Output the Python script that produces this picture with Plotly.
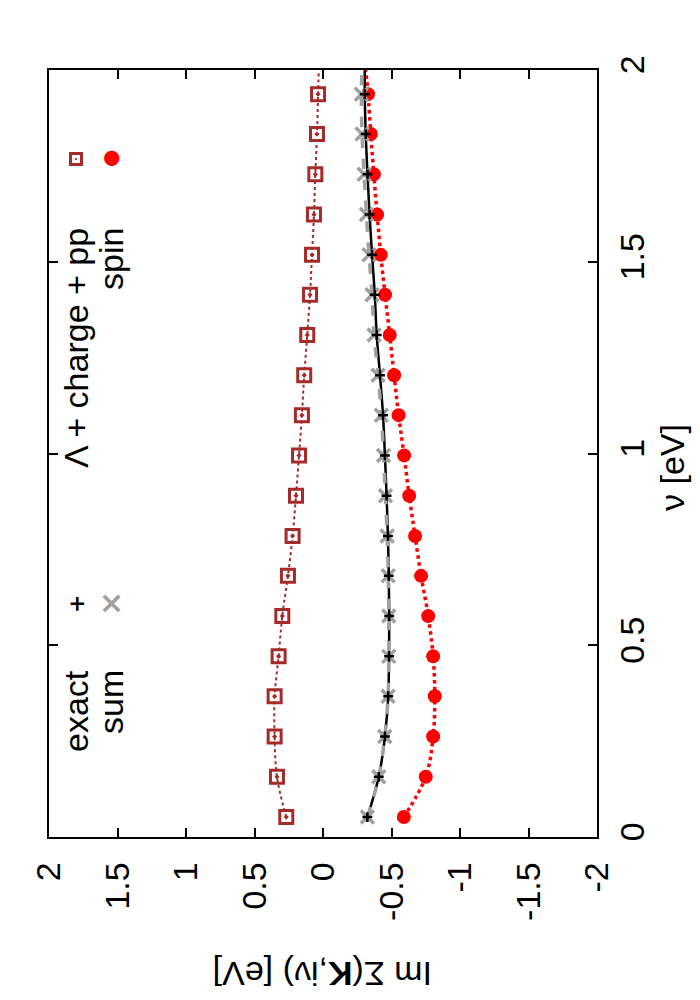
import plotly.graph_objects as go

# Matsubara frequencies (eV)
nu = [0.052, 0.157, 0.262, 0.367, 0.471, 0.576, 0.681, 0.785, 0.890, 0.995,
      1.100, 1.204, 1.309, 1.414, 1.518, 1.623, 1.728, 1.833, 1.937]

# Im Sigma values (eV)
lam_charge_pp = [0.268, 0.336, 0.353, 0.353, 0.324, 0.297, 0.256, 0.222, 0.197, 0.175,
                 0.154, 0.137, 0.115, 0.095, 0.080, 0.066, 0.056, 0.044, 0.036]
spin = [-0.590, -0.750, -0.804, -0.816, -0.804, -0.768, -0.716, -0.672, -0.629, -0.592,
        -0.552, -0.519, -0.487, -0.453, -0.422, -0.395, -0.371, -0.349, -0.329]
sum_vals = [-0.324, -0.407, -0.451, -0.475, -0.480, -0.480, -0.476, -0.468, -0.456, -0.442,
            -0.426, -0.402, -0.373, -0.358, -0.336, -0.317, -0.300, -0.285, -0.280]
exact = [-0.324, -0.407, -0.452, -0.476, -0.482, -0.483, -0.480, -0.474, -0.464, -0.452,
         -0.438, -0.416, -0.392, -0.378, -0.358, -0.340, -0.325, -0.312, -0.305]

# curve end values at nu = 2 (lines continue to the frame)
nu_end = 2.0
lam_end = 0.031
spin_end = -0.312
sum_end = -0.285
exact_end = -0.305

xticks = [2, 1.5, 1, 0.5, 0, -0.5, -1, -1.5, -2]
xticktext = ["2", "1.5", "1", "0.5", "0", "-0.5", "-1", "-1.5", "-2"]
yticks = [0, 0.5, 1, 1.5, 2]
yticktext = ["0", "0.5", "1", "1.5", "2"]

FONT = "Liberation Sans, Arial, sans-serif"
FS = 34
BROWN = "#a52a2a"
GREY = "#a0a0a0"
RED = "#ff0000"

fig = go.Figure()

# lambda + charge + pp
fig.add_trace(go.Scatter(x=lam_charge_pp + [lam_end], y=nu + [nu_end], mode="lines",
                         line=dict(color=BROWN, width=2, dash="dot", shape="spline"),
                         showlegend=False, hoverinfo="skip"))
fig.add_trace(go.Scatter(x=lam_charge_pp, y=nu, mode="markers",
                         marker=dict(symbol="square-open-dot", size=13, color=BROWN,
                                     line=dict(color=BROWN, width=3)),
                         showlegend=False))
# spin
fig.add_trace(go.Scatter(x=spin + [spin_end], y=nu + [nu_end], mode="lines",
                         line=dict(color=RED, width=3.5, dash="dot", shape="spline"),
                         showlegend=False, hoverinfo="skip"))
fig.add_trace(go.Scatter(x=spin, y=nu, mode="markers",
                         marker=dict(symbol="circle", size=14, color=RED),
                         showlegend=False))
# exact
fig.add_trace(go.Scatter(x=exact + [exact_end], y=nu + [nu_end], mode="lines",
                         line=dict(color="black", width=2.5, shape="spline"),
                         showlegend=False, hoverinfo="skip"))
# sum
fig.add_trace(go.Scatter(x=sum_vals + [sum_end], y=nu + [nu_end], mode="lines",
                         line=dict(color=GREY, width=3.5, dash="dash", shape="spline"),
                         showlegend=False, hoverinfo="skip"))
fig.add_trace(go.Scatter(x=sum_vals, y=nu, mode="markers",
                         marker=dict(symbol="x-thin", size=13, color=GREY,
                                     line=dict(color=GREY, width=3.5)),
                         showlegend=False))
fig.add_trace(go.Scatter(x=exact, y=nu, mode="markers",
                         marker=dict(symbol="cross-thin", size=7, color="black",
                                     line=dict(color="black", width=2.5)),
                         showlegend=False))

# pixel -> paper helpers for annotation placement
L, R, T, B = 41, 589, 62, 829
def px2x(px):
    return (px - L) / (R - L)
def py2y(py):
    return (B - py) / (B - T)

ann = []
def txt(px, py, s, color="black", size=FS, angle=-90, xa="center", ya="top", fam=FONT):
    ann.append(dict(x=px2x(px), y=py2y(py), xref="paper", yref="paper", text=s,
                    showarrow=False, textangle=angle, xanchor=xa, yanchor=ya,
                    font=dict(family=fam, size=size, color=color)))

# key text
txt(68, 660, "exact")
txt(103, 660, "sum")
txt(68, 218, "Λ + charge + pp")
txt(103, 218, "spin")
# key samples
txt(68, 596, "<b>+</b>", size=22, ya="middle", fam="DejaVu Sans")
txt(102, 596, "<b>×</b>", color=GREY, size=30, ya="middle", fam="DejaVu Sans")
txt(102, 151, "●", color=RED, size=20, ya="middle", fam="DejaVu Sans")
ann.append(dict(x=px2x(68), y=py2y(151), xref="paper", yref="paper", text="<b>·</b>",
                showarrow=False, font=dict(size=10, color=BROWN, family="DejaVu Sans"),
                bordercolor=BROWN, borderwidth=3, borderpad=0, width=8, height=8,
                xanchor="center", yanchor="middle"))

# axis titles
txt(315, 966, "Im Σ(<b>K</b>,iν) [eV]", angle=180, ya="middle")
txt(664, 460, "ν [eV]", ya="middle")

fig.update_layout(
    width=700, height=1000,
    margin=dict(l=L, r=700 - R, t=T, b=1000 - B, autoexpand=False),
    paper_bgcolor="white", plot_bgcolor="white",
    showlegend=False,
    annotations=ann,
    xaxis=dict(range=[2, -2], tickvals=xticks, ticktext=xticktext, tickangle=-90,
               ticks="inside", ticklen=9, tickwidth=1.5, tickcolor="black",
               showline=True, linecolor="black", linewidth=1.5, mirror="allticks",
               showgrid=False, zeroline=False, ticklabelstandoff=10,
               tickfont=dict(family=FONT, size=FS, color="black")),
    yaxis=dict(range=[0, 2], side="right", tickvals=yticks, ticktext=yticktext, tickangle=-90,
               ticks="inside", ticklen=9, tickwidth=1.5, tickcolor="black",
               showline=True, linecolor="black", linewidth=1.5, mirror="allticks",
               showgrid=False, zeroline=False, ticklabelstandoff=4,
               tickfont=dict(family=FONT, size=FS, color="black")),
)

fig.write_html("out.html")
